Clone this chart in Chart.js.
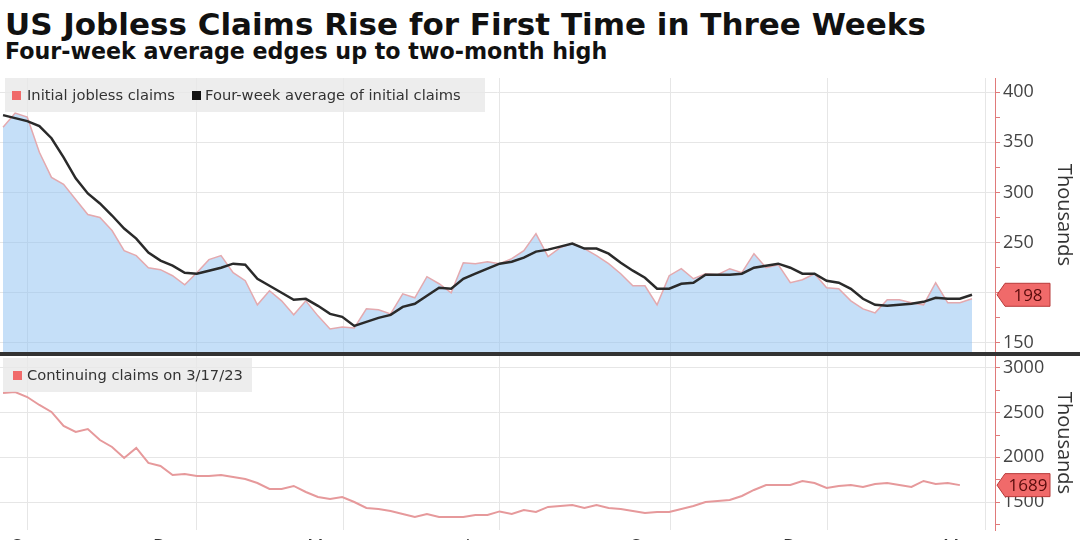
<!DOCTYPE html>
<html>
<head>
<meta charset="utf-8">
<script src="https://cdn.jsdelivr.net/npm/chart.js@4.4.0/dist/chart.umd.min.js"></script>
<style>
  html, body { margin: 0; padding: 0; background: #fff; width: 1080px; height: 540px; overflow: hidden; }
  #wrap { position: relative; width: 1080px; height: 540px; overflow: hidden; }
  .title { position: absolute; left: 5px; top: 9px; font: bold 31px/31px 'DejaVu Sans', sans-serif; color: #111; white-space: nowrap; }
  .subtitle { position: absolute; left: 5px; top: 40px; font: bold 22.2px/22px 'DejaVu Sans', sans-serif; color: #111; white-space: nowrap; }
  canvas { position: absolute; left: 0; }
  #topChart { top: 62px; }
  #bottomChart { top: 340px; }
  .legend { position: absolute; height: 34px; background: rgba(232,232,232,0.8); font: 14.7px/34px 'DejaVu Sans', sans-serif; color: #333; white-space: nowrap; }
  .sw { display: inline-block; width: 9px; height: 9px; vertical-align: 0px; }
  .sep { position: absolute; left: 0; top: 352px; width: 1080px; height: 4px; background: #333; }
</style>
</head>
<body>
<div id="wrap">
  <div class="title">US Jobless Claims Rise for First Time in Three Weeks</div>
  <div class="subtitle">Four-week average edges up to two-month high</div>
  <canvas id="topChart" width="1080" height="306"></canvas>
  <canvas id="bottomChart" width="1080" height="210"></canvas>
  <div class="sep"></div>
  <div class="legend" style="left:5px; top:78px; padding:0 24px 0 7px;">
    <span class="sw" style="background:#f06a6a"></span><span style="margin-left:6px">Initial jobless claims</span><span class="sw" style="background:#111; margin-left:17px"></span><span style="margin-left:4px">Four-week average of initial claims</span>
  </div>
  <div class="legend" style="left:3px; top:358px; padding:0 9px 0 10px;">
    <span class="sw" style="background:#f06a6a"></span><span style="margin-left:5px">Continuing claims on 3/17/23</span>
  </div>
</div>
<script>
// weekly values in thousands, Sep 2021 - Mar 2023
const initialClaims = [365, 379, 375, 340, 315, 308, 293, 278, 275, 262,
  242, 237, 225, 223, 217, 208, 220, 233, 237, 220,
  212, 188, 202, 192, 178, 192, 177, 164, 166, 165,
  184, 183, 179, 199, 195, 216, 209, 200, 230, 229,
  231, 229, 234, 242, 259, 236, 245, 249, 244, 237,
  229, 219, 207, 207, 188, 217, 224, 214, 219, 218,
  224, 220, 239, 225, 228, 210, 213, 219, 205, 204,
  192, 184, 180, 193, 193, 190, 188, 210, 190, 190,
  194];
const fourWeekAvg = [377, 374, 371, 366, 354, 335, 314, 299, 289, 277,
  264, 254, 240, 232, 227, 220, 219, 222, 225, 229,
  228, 214, 207, 200, 193, 194, 187, 179, 176, 167,
  171, 175, 178, 186, 189, 197, 205, 204, 214, 219,
  224, 229, 231, 235, 241, 243, 246, 249, 244, 244,
  239, 230, 222, 215, 204, 204, 209, 210, 218, 218,
  218, 219, 225, 227, 229, 225, 219, 219, 212, 210,
  204, 194, 188, 187, 188, 189, 191, 195, 194, 194,
  198];
const continuingClaims = [2720, 2731, 2675, 2586, 2508, 2351, 2284, 2317, 2194, 2116,
  1993, 2105, 1937, 1903, 1803, 1814, 1791, 1791, 1803, 1780,
  1758, 1713, 1646, 1646, 1680, 1612, 1556, 1534, 1556, 1500,
  1433, 1422, 1400, 1366, 1333, 1366, 1333, 1333, 1333, 1355,
  1355, 1395, 1366, 1411, 1389, 1445, 1456, 1467, 1433, 1467,
  1433, 1422, 1400, 1378, 1389, 1389, 1422, 1456, 1500, 1511,
  1523, 1568, 1635, 1691, 1691, 1691, 1736, 1713, 1657, 1680,
  1691, 1669, 1702, 1713, 1691, 1669, 1736, 1702, 1713, 1689];

// quarter gridlines and month labels, in weeks from the first point
const gridWeeks = [2, 16, 28.1, 41, 55.1, 68.1, 81.1];
const labelWeeks = [2, 13.7, 26.5, 39.3, 53.1, 65.7, 79];
const monthLabels = ['Sep', 'Dec', 'Mar', 'Jun', 'Sep', 'Dec', 'Mar'];

const initialTicks = [150, 200, 250, 300, 350, 400];
const continuingTicks = [1500, 2000, 2500, 3000];

const X_MIN = -0.25, X_MAX = 81.9;

Chart.defaults.font.family = "'Open Sans', sans-serif";
Chart.defaults.color = '#333';

function toPoints(arr) {
  return arr.map((v, i) => ({ x: i, y: v }));
}

// major ticks from the list, minor ticks halfway between
function withMinor(list) {
  const step = (list[1] - list[0]) / 2;
  const out = [];
  list.forEach(v => {
    out.push({ value: v, major: true });
    out.push({ value: v + step, major: false });
  });
  out.unshift({ value: list[0] - step, major: false });
  return out;
}

//Function to draw the last value tag on the right axis
const lastValueTag = {
  id: 'lastValueTag',
  afterDraw(chart, args, opts) {
    const ds = chart.data.datasets[opts.index];
    const v = ds.data[ds.data.length - 1].y;
    const yScale = chart.scales.y;
    const y = yScale.getPixelForValue(v);
    const x0 = yScale.left + 2;
    const ctx = chart.ctx;
    ctx.save();
    ctx.beginPath();
    ctx.moveTo(x0, y);
    ctx.lineTo(x0 + 8, y - 11.5);
    ctx.lineTo(x0 + 53, y - 11.5);
    ctx.lineTo(x0 + 53, y + 11.5);
    ctx.lineTo(x0 + 8, y + 11.5);
    ctx.closePath();
    ctx.fillStyle = '#f06a6a';
    ctx.fill();
    ctx.strokeStyle = '#b83a3a';
    ctx.lineWidth = 1;
    ctx.stroke();
    ctx.fillStyle = '#5a0c0c';
    ctx.font = "17px 'Open Sans', sans-serif";
    ctx.textAlign = 'center';
    ctx.textBaseline = 'middle';
    ctx.fillText(String(v), x0 + 31, y + 1);
    ctx.restore();
  }
};

function yAxis(min, max, list) {
  return {
    position: 'right',
    min: min,
    max: max,
    afterBuildTicks: s => { s.ticks = withMinor(list).filter(t => t.value >= min && t.value <= max); },
    afterFit: s => { s.width = 85; },
    ticks: {
      autoSkip: false,
      padding: 3,
      font: { size: 18 },
      color: '#444',
      callback: (v, i, ticks) => ticks[i].major ? v : ''
    },
    grid: {
      color: c => (c.tick && c.tick.major) ? '#e6e6e6' : 'rgba(0,0,0,0)',
      tickColor: '#e07a7a',
      tickLength: 5
    },
    border: { color: '#e07a7a', width: 1 },
    title: { display: true, text: 'Thousands', color: '#333', font: { size: 20 }, padding: 4 }
  };
}

function gridX() {
  return {
    type: 'linear',
    min: X_MIN,
    max: X_MAX,
    afterBuildTicks: s => { s.ticks = gridWeeks.map(v => ({ value: v })); },
    afterFit: s => { s.height = 0; },
    ticks: { display: false },
    grid: { color: '#e6e6e6', drawTicks: false },
    border: { display: false }
  };
}

window.addEventListener('DOMContentLoaded', function () {
  const topCtx = document.getElementById('topChart').getContext('2d');
  const bottomCtx = document.getElementById('bottomChart').getContext('2d');

  // Chart 1: initial claims and four-week average
  new Chart(topCtx, {
    type: 'line',
    data: {
      datasets: [{
        label: 'Four-week average of initial claims',
        data: toPoints(fourWeekAvg),
        borderColor: '#2a2a2a',
        borderWidth: 2.5,
        pointRadius: 0,
        fill: false,
        order: 0
      }, {
        label: 'Initial jobless claims',
        data: toPoints(initialClaims),
        borderColor: '#e4a9ae',
        borderWidth: 1.5,
        backgroundColor: 'rgba(140,192,242,0.5)',
        pointRadius: 0,
        fill: 'start',
        order: 1
      }]
    },
    options: {
      responsive: false,
      animation: false,
      layout: { padding: { top: 16, bottom: 16, left: 0, right: 0 } },
      plugins: {
        legend: { display: false },
        tooltip: { enabled: false },
        lastValueTag: { index: 0 }
      },
      scales: {
        x: gridX(),
        y: yAxis(141, 414, initialTicks)
      }
    },
    plugins: [lastValueTag]
  });

  // Chart 2: continuing claims
  new Chart(bottomCtx, {
    type: 'line',
    data: {
      datasets: [{
        label: 'Continuing claims on 3/17/23',
        data: toPoints(continuingClaims),
        borderColor: '#e6999b',
        borderWidth: 2,
        pointRadius: 0,
        fill: false
      }]
    },
    options: {
      responsive: false,
      animation: false,
      layout: { padding: { top: 16, bottom: 0, left: 0, right: 0 } },
      plugins: {
        legend: { display: false },
        tooltip: { enabled: false },
        lastValueTag: { index: 0 }
      },
      scales: {
        x: gridX(),
        xl: {
          type: 'linear',
          position: 'bottom',
          min: X_MIN,
          max: X_MAX,
          afterBuildTicks: s => { s.ticks = labelWeeks.map(v => ({ value: v })); },
          afterFit: s => { s.height = 20; },
          ticks: {
            autoSkip: false,
            maxRotation: 0,
            padding: -2,
            font: { size: 18 },
            color: '#333',
            callback: (v, i) => monthLabels[i]
          },
          grid: { display: false },
          border: { display: false }
        },
        y: yAxis(1187, 3134, continuingTicks)
      }
    },
    plugins: [lastValueTag]
  });
});
</script>
</body>
</html>
